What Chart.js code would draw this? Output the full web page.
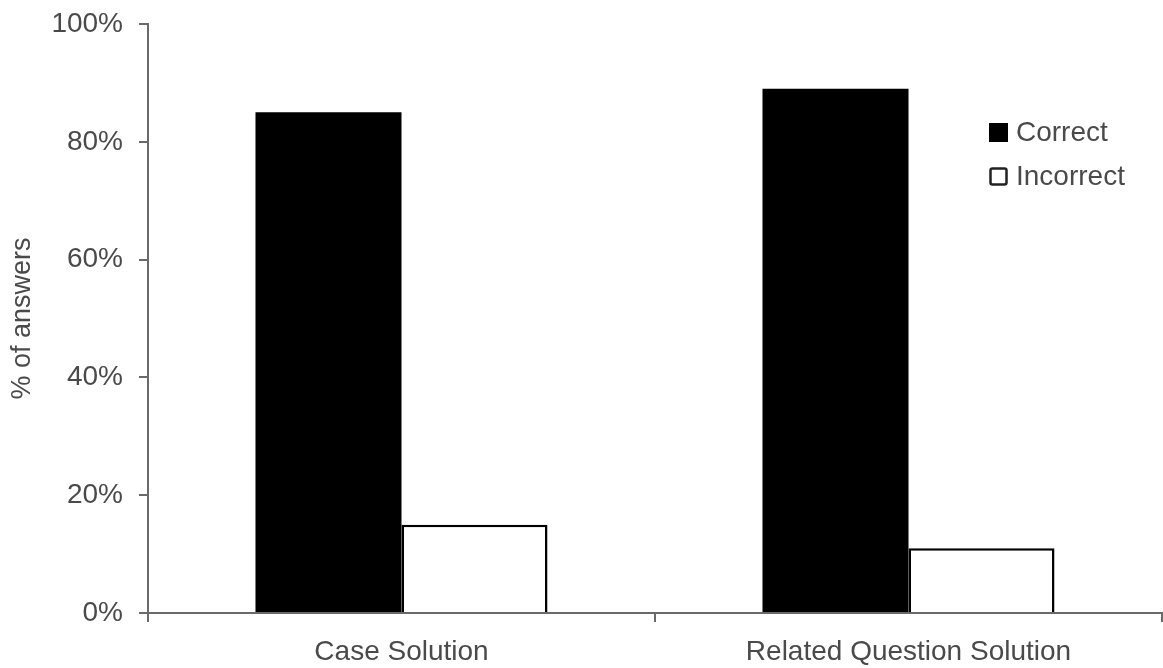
<!DOCTYPE html>
<html>
<head>
<meta charset="utf-8">
<script src="https://cdn.jsdelivr.net/npm/chart.js@4.4.1/dist/chart.umd.min.js"></script>
<style>
  html, body { margin: 0; padding: 0; background: #ffffff; }
  #wrap { width: 1163px; height: 668px; }
</style>
</head>
<body>
<div id="wrap"><canvas id="c" width="1163" height="668"></canvas></div>
<script>
// Share of correct vs incorrect answers per solution type
const categories = ['Case Solution', 'Related Question Solution'];
const seriesNames = ['Correct', 'Incorrect'];
const correctValues = [85, 89];
const incorrectValues = [15, 11];
const yTickValues = [0, 20, 40, 60, 80, 100];
const yTickLabels = ['0%', '20%', '40%', '60%', '80%', '100%'];
const yAxisTitle = '% of answers';

const FONT = 'Liberation Sans, Arial, Helvetica, sans-serif';
const TEXT = '#4a4a4a';
const AXIS = '#6a6a6a';

// Legend drawn inside the plot area, upper right
const insideLegend = {
  id: 'insideLegend',
  afterDraw(chart) {
    const ctx = chart.ctx;
    const area = chart.chartArea;
    const x0 = area.right - 173;
    const y0 = area.top + 99;
    const rowGap = 44;
    ctx.save();
    ctx.font = '28px ' + FONT;
    ctx.textBaseline = 'middle';
    ctx.textAlign = 'left';
    chart.data.datasets.forEach((ds, i) => {
      const y = y0 + i * rowGap;
      const size = 19;
      if (i === 0) {
        ctx.fillStyle = ds.backgroundColor;
        ctx.fillRect(x0, y, size, size);
      } else {
        ctx.fillStyle = '#ffffff';
        ctx.strokeStyle = '#222222';
        ctx.lineWidth = 2.5;
        ctx.beginPath();
        ctx.roundRect(x0 + 1.5, y + 1.5, size - 3, size - 3, 2);
        ctx.fill();
        ctx.stroke();
      }
      ctx.fillStyle = TEXT;
      ctx.fillText(ds.label, x0 + 27, y + size / 2 + 1);
    });
    ctx.restore();
  }
};

new Chart(document.getElementById('c'), {
  type: 'bar',
  data: {
    labels: categories,
    datasets: [
      {
        label: seriesNames[0],
        data: correctValues,
        backgroundColor: '#000000',
        borderWidth: 0,
        categoryPercentage: 0.576,
        barPercentage: 1.0
      },
      {
        label: seriesNames[1],
        data: incorrectValues,
        backgroundColor: '#ffffff',
        borderColor: '#000000',
        borderWidth: 2.5,
        categoryPercentage: 0.576,
        barPercentage: 1.0
      }
    ]
  },
  options: {
    responsive: false,
    animation: false,
    devicePixelRatio: 1,
    layout: { padding: { top: 24, right: 1, bottom: 0, left: 0 } },
    plugins: {
      legend: { display: false },
      tooltip: { enabled: false }
    },
    scales: {
      x: {
        offset: true,
        grid: {
          offset: true,
          drawOnChartArea: false,
          drawTicks: true,
          tickLength: 9,
          color: AXIS,
          lineWidth: 2
        },
        border: { display: true, color: AXIS, width: 2 },
        ticks: {
          color: TEXT,
          font: { family: FONT, size: 28 },
          padding: 13,
          maxRotation: 0
        },
        afterFit(scale) {
          scale.height = 55;
          scale.paddingLeft = 0;
          scale.paddingRight = 0;
        }
      },
      y: {
        min: 0,
        max: 100,
        afterBuildTicks(scale) {
          scale.ticks = yTickValues.map(v => ({ value: v }));
        },
        grid: {
          drawOnChartArea: false,
          drawTicks: true,
          tickLength: 9,
          color: AXIS,
          lineWidth: 2
        },
        border: { display: true, color: AXIS, width: 2 },
        ticks: {
          color: TEXT,
          font: { family: FONT, size: 28 },
          padding: 16,
          callback(value) {
            const i = yTickValues.indexOf(value);
            return i >= 0 ? yTickLabels[i] : '';
          }
        },
        title: {
          display: true,
          text: yAxisTitle,
          color: TEXT,
          font: { family: FONT, size: 27 },
          padding: { top: 6, bottom: 0 }
        },
        afterFit(scale) {
          scale.width = 148;
          scale.paddingTop = 0;
          scale.paddingBottom = 0;
        }
      }
    }
  },
  plugins: [insideLegend]
});
</script>
</body>
</html>
